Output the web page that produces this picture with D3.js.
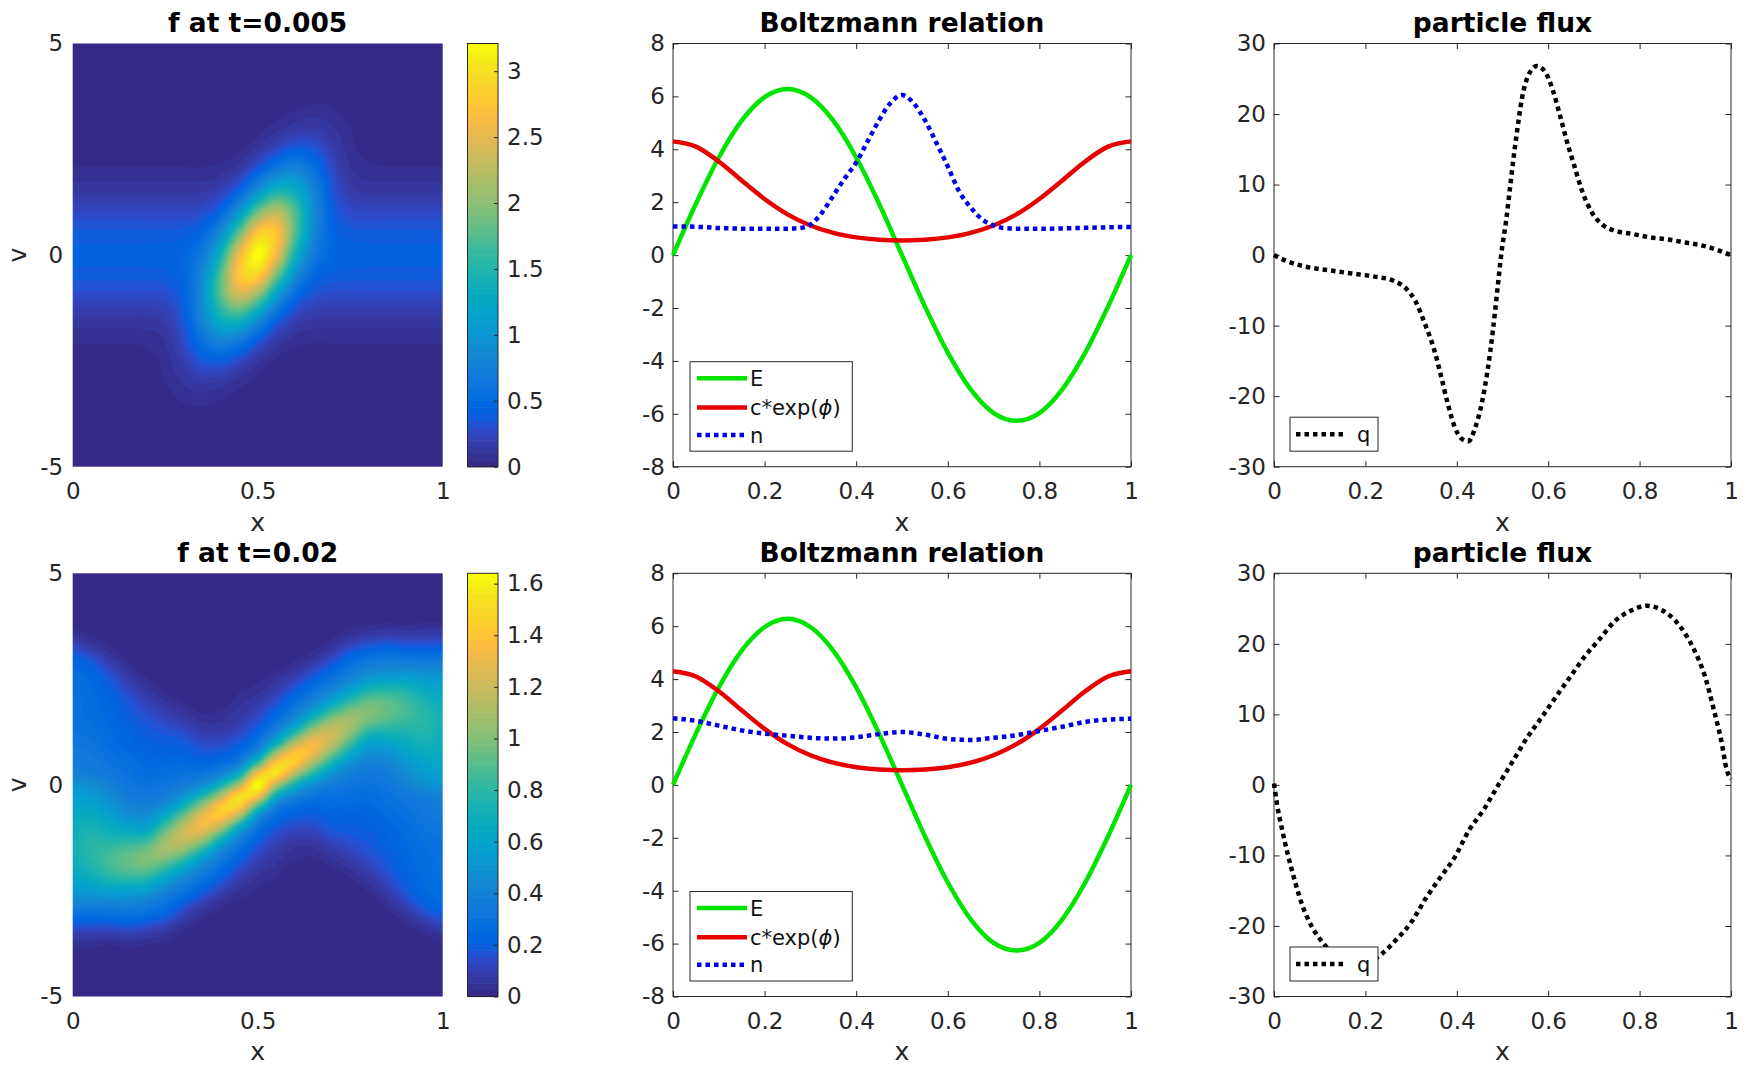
<!DOCTYPE html>
<html>
<head>
<meta charset="utf-8">
<script src="https://cdn.jsdelivr.net/npm/d3@7"></script>
<style>
  body { margin: 0; background: #fff; }
  svg { display: block; }
  svg text { font-family: "DejaVu Sans", sans-serif; }
</style>
</head>
<body>
<svg id="fig" width="1748" height="1066"></svg>
<script>
// ---- distribution function f(x,v) ----
const fieldX = [0,0.05,0.1,0.15,0.2,0.25,0.3,0.35,0.4,0.45,0.5,0.55,0.6,0.65,0.7,0.75,0.8,0.85,0.9,0.95,1];
const vEarly = [5,4.5,4,3.5,3,2.5,2,1.5,1,0.5,0,-0.5,-1,-1.5,-2,-2.5,-3,-3.5,-4,-4.5,-5];
// rows = v (top to bottom), columns = x
const fEarly = [
  [0,0,0,0,0,0,0,0,0,0,0,0,0,0,0,0,0,0,0,0,0],
  [0,0,0,0,0,0,0,0,0,0,0,0,0,0,0,0,0,0,0,0,0],
  [0,0,0,0,0,0,0,0,0,0,0,0,.01,.02,.02,.01,0,0,0,0,0],
  [0,0,0,0,0,0,0,0,0,0,0,.02,.04,.06,.05,.02,.01,0,0,0,0],
  [.01,.01,.01,.01,.01,.01,.01,.01,.01,.01,.03,.08,.14,.16,.11,.05,.02,.01,.01,.01,.01],
  [.02,.02,.02,.02,.02,.02,.02,.02,.02,.04,.12,.27,.39,.35,.19,.07,.03,.02,.02,.02,.02],
  [.06,.06,.06,.06,.06,.06,.06,.06,.08,.16,.40,.72,.83,.60,.28,.11,.07,.06,.06,.06,.06],
  [.14,.14,.14,.14,.14,.14,.14,.15,.22,.47,.99,1.46,1.36,.82,.36,.18,.14,.14,.14,.14,.14],
  [.26,.26,.26,.26,.26,.26,.26,.30,.49,1.06,1.91,2.28,1.75,.92,.43,.28,.26,.26,.26,.26,.26],
  [.37,.37,.37,.37,.37,.37,.39,.49,.93,1.88,2.82,2.76,1.77,.86,.47,.38,.37,.37,.37,.37,.37],
  [.42,.42,.42,.42,.42,.43,.47,.70,1.42,2.58,3.21,2.58,1.42,.70,.47,.43,.42,.42,.42,.42,.42],
  [.37,.37,.37,.37,.37,.38,.47,.86,1.77,2.76,2.82,1.88,.93,.49,.39,.37,.37,.37,.37,.37,.37],
  [.26,.26,.26,.26,.26,.28,.43,.92,1.75,2.28,1.91,1.06,.49,.30,.26,.26,.26,.26,.26,.26,.26],
  [.14,.14,.14,.14,.14,.18,.36,.82,1.36,1.46,.99,.47,.22,.15,.14,.14,.14,.14,.14,.14,.14],
  [.06,.06,.06,.06,.07,.11,.28,.60,.83,.72,.40,.16,.08,.06,.06,.06,.06,.06,.06,.06,.06],
  [.02,.02,.02,.02,.03,.07,.19,.35,.39,.27,.12,.04,.02,.02,.02,.02,.02,.02,.02,.02,.02],
  [.01,.01,.01,.01,.02,.05,.11,.16,.14,.08,.03,.01,.01,.01,.01,.01,.01,.01,.01,.01,.01],
  [0,0,0,0,.01,.02,.05,.06,.04,.02,0,0,0,0,0,0,0,0,0,0,0],
  [0,0,0,0,0,.01,.02,.02,.01,0,0,0,0,0,0,0,0,0,0,0,0],
  [0,0,0,0,0,0,0,0,0,0,0,0,0,0,0,0,0,0,0,0,0],
  [0,0,0,0,0,0,0,0,0,0,0,0,0,0,0,0,0,0,0,0,0]
];

const vLate = [5,4.75,4.5,4.25,4,3.75,3.5,3.25,3,2.75,2.5,2.25,2,1.75,1.5,1.25,1,0.75,0.5,0.25,0,
  -0.25,-0.5,-0.75,-1,-1.25,-1.5,-1.75,-2,-2.25,-2.5,-2.75,-3,-3.25,-3.5,-3.75,-4,-4.25,-4.5,-4.75,-5];
// columns = x, each column runs v from top to bottom
const fLateCols = [
  [0,0,0,0,0,.02,.06,.14,.22,.26,.28,.28,.29,.29,.30,.31,.33,.35,.38,.41,.50,.56,.62,.66,.69,.71,.72,.71,.68,.62,.53,.43,.32,.20,.11,.04,.01,0,0,0,0],
  [0,0,0,0,0,.01,.03,.08,.16,.22,.25,.26,.27,.27,.28,.29,.31,.33,.35,.38,.47,.53,.60,.67,.73,.77,.79,.78,.74,.66,.55,.43,.30,.20,.10,.04,.01,0,0,0,0],
  [0,0,0,0,0,0,.01,.03,.07,.13,.18,.21,.23,.24,.25,.26,.27,.29,.31,.34,.40,.45,.51,.59,.67,.75,.83,.87,.84,.74,.60,.44,.32,.20,.10,.03,.01,0,0,0,0],
  [0,0,0,0,0,0,0,0,.02,.05,.09,.13,.17,.19,.21,.23,.24,.26,.28,.30,.33,.37,.42,.49,.62,.75,.88,.94,.90,.77,.58,.44,.33,.22,.11,.04,.01,0,0,0,0],
  [0,0,0,0,0,0,0,0,0,0,.03,.06,.10,.14,.17,.19,.21,.23,.25,.27,.30,.34,.40,.48,.60,.78,.95,1.00,.92,.74,.55,.40,.30,.19,.09,.03,.01,0,0,0,0],
  [0,0,0,0,0,0,0,0,0,0,0,.02,.05,.09,.13,.17,.20,.22,.25,.28,.32,.38,.48,.67,.87,1.04,1.09,.98,.78,.58,.42,.32,.24,.14,.06,.02,0,0,0,0,0],
  [0,0,0,0,0,0,0,0,0,0,0,0,.02,.05,.09,.14,.19,.22,.26,.30,.37,.50,.72,.98,1.17,1.20,1.06,.82,.58,.42,.31,.22,.13,.06,.02,0,0,0,0,0,0],
  [0,0,0,0,0,0,0,0,0,0,0,0,0,.02,.05,.09,.14,.19,.24,.32,.47,.75,1.06,1.30,1.32,1.12,.82,.56,.40,.30,.21,.12,.05,.02,0,0,0,0,0,0,0],
  [0,0,0,0,0,0,0,0,0,0,0,0,0,.03,.05,.09,.14,.20,.28,.43,.72,1.10,1.42,1.40,1.12,.76,.50,.36,.27,.19,.11,.05,.02,0,0,0,0,0,0,0,0],
  [0,0,0,0,0,0,0,0,0,0,0,.02,.04,.06,.09,.13,.19,.27,.40,.69,1.12,1.52,1.45,1.08,.66,.42,.30,.22,.15,.09,.05,.02,0,0,0,0,0,0,0,0,0],
  [0,0,0,0,0,0,0,0,0,.01,.02,.04,.07,.11,.16,.23,.32,.50,.88,1.38,1.64,1.38,.88,.50,.32,.23,.16,.11,.07,.04,.02,.01,0,0,0,0,0,0,0,0,0],
  [0,0,0,0,0,0,0,0,0,.02,.05,.09,.15,.22,.30,.42,.66,1.08,1.45,1.52,1.12,.69,.40,.27,.19,.13,.09,.06,.04,.02,0,0,0,0,0,0,0,0,0,0,0],
  [0,0,0,0,0,0,0,0,.02,.05,.11,.19,.27,.36,.50,.76,1.12,1.40,1.42,1.10,.72,.43,.28,.20,.14,.09,.05,.03,0,0,0,0,0,0,0,0,0,0,0,0,0],
  [0,0,0,0,0,0,0,.02,.05,.12,.21,.30,.40,.56,.82,1.12,1.32,1.30,1.06,.75,.47,.32,.24,.19,.14,.09,.05,.02,0,0,0,0,0,0,0,0,0,0,0,0,0],
  [0,0,0,0,0,0,.02,.06,.13,.22,.31,.42,.58,.82,1.06,1.20,1.17,.98,.72,.50,.37,.30,.26,.22,.19,.14,.09,.05,.02,0,0,0,0,0,0,0,0,0,0,0,0],
  [0,0,0,0,0,.02,.06,.14,.24,.32,.42,.58,.78,.98,1.09,1.04,.87,.67,.48,.38,.32,.28,.25,.22,.20,.17,.13,.09,.05,.02,0,0,0,0,0,0,0,0,0,0,0],
  [0,0,0,0,.01,.03,.09,.19,.30,.40,.55,.74,.92,1.00,.95,.78,.60,.48,.40,.34,.30,.27,.25,.23,.21,.19,.17,.14,.10,.06,.03,0,0,0,0,0,0,0,0,0,0],
  [0,0,0,0,.01,.04,.11,.22,.33,.44,.58,.77,.90,.94,.88,.75,.62,.49,.42,.37,.33,.30,.28,.26,.24,.23,.21,.19,.17,.13,.09,.05,.02,0,0,0,0,0,0,0,0],
  [0,0,0,0,.01,.03,.10,.20,.32,.44,.60,.74,.84,.87,.83,.75,.67,.59,.51,.45,.40,.34,.31,.29,.27,.26,.25,.24,.23,.21,.18,.13,.07,.03,.01,0,0,0,0,0,0],
  [0,0,0,0,.01,.04,.10,.20,.30,.43,.55,.66,.74,.78,.79,.77,.73,.67,.60,.53,.47,.38,.35,.33,.31,.29,.28,.27,.27,.26,.25,.22,.16,.08,.03,.01,0,0,0,0,0],
  [0,0,0,0,.01,.04,.11,.20,.32,.43,.53,.62,.68,.71,.72,.71,.69,.66,.62,.56,.50,.41,.38,.35,.33,.31,.30,.29,.29,.28,.28,.26,.22,.14,.06,.02,0,0,0,0,0]
];
const fLate = d3.transpose(fLateCols);

// ---- Boltzmann relation ----
const bx = [0,0.05,0.1,0.15,0.2,0.25,0.3,0.35,0.4,0.45,0.5,0.55,0.6,0.65,0.7,0.75,0.8,0.85,0.9,0.95,1];
const eField = [0,1.94,3.69,5.08,5.97,6.28,5.97,5.08,3.69,1.94,0,-1.94,-3.69,-5.08,-5.97,-6.26,-5.97,-5.08,-3.69,-1.94,0];
const cExpPhi = [4.30,4.10,3.54,2.82,2.12,1.54,1.12,0.84,0.67,0.58,0.55,0.58,0.67,0.84,1.12,1.54,2.12,2.82,3.54,4.10,4.30];
const nEarlyX = [0,0.025,0.05,0.075,0.1,0.125,0.15,0.175,0.2,0.225,0.25,0.275,0.3,0.325,0.35,0.375,0.4,0.425,0.45,0.475,0.5,
  0.525,0.55,0.575,0.6,0.625,0.65,0.675,0.7,0.725,0.75,0.775,0.8,0.825,0.85,0.875,0.9,0.925,0.95,0.975,1];
const nEarly = [1.08,1.08,1.07,1.05,1.02,1.01,1.0,1.0,1.0,1.0,1.0,1.02,1.15,1.6,2.25,2.9,3.5,4.3,5.1,5.75,6.05,
  5.75,5.1,4.25,3.35,2.4,1.8,1.35,1.12,1.02,1.0,1.0,1.0,1.0,1.01,1.02,1.03,1.04,1.05,1.06,1.06];
const nLate = [2.52,2.42,2.24,2.06,1.94,1.86,1.78,1.75,1.80,1.92,2.0,1.90,1.74,1.70,1.78,1.88,2.04,2.20,2.38,2.47,2.50];

// ---- particle flux ----
const qEarlyX = [0,0.03,0.07,0.12,0.17,0.22,0.26,0.29,0.31,0.33,0.35,0.365,0.38,0.395,0.41,0.425,0.44,0.455,0.467,0.479,
  0.489,0.498,0.508,0.516,0.524,0.532,0.542,0.556,0.575,0.594,0.61,0.625,0.641,0.657,0.673,0.697,0.721,0.744,0.784,0.824,
  0.863,0.903,0.943,1];
const qEarly = [0,-0.9,-1.65,-2.15,-2.6,-3.05,-3.6,-4.8,-6.6,-9.7,-13.3,-17,-21,-24.3,-26,-26.4,-24.5,-20.9,-16.5,-10.7,
  -4.8,0.5,4.9,9.3,13.7,17.6,22.0,25.4,26.8,25.9,23.4,20.0,16.1,12.7,9.3,5.9,4.2,3.5,3.0,2.5,
  2.2,1.75,1.27,0];
const qLateX = [0,0.006,0.018,0.03,0.046,0.062,0.082,0.11,0.14,0.17,0.2,0.233,0.268,0.3,0.332,0.363,0.395,0.427,0.459,0.49,
  0.522,0.554,0.586,0.617,0.649,0.681,0.713,0.744,0.784,0.816,0.848,0.887,0.919,0.943,0.963,0.979,0.99,1];
const qLate = [0.2,-2.5,-6.4,-9.8,-13.7,-17.1,-20,-22.6,-24.6,-25.5,-25.3,-24.1,-21.9,-19.5,-16.1,-13.2,-10.3,-6.4,-3.5,-0.1,
  3.3,6.7,9.6,12.5,15.4,18.3,20.7,23.1,24.8,25.4,24.8,22.6,19.2,15.4,10.5,6.2,2.3,0.8];

// ---- ticks ----
const heatXTicks = [0, 0.5, 1];
const heatVTicks = [-5, 0, 5];
const cbTicksEarly = [0, 0.5, 1, 1.5, 2, 2.5, 3];
const cbTicksLate = [0, 0.2, 0.4, 0.6, 0.8, 1, 1.2, 1.4, 1.6];
const lineXTicks = [0, 0.2, 0.4, 0.6, 0.8, 1];
const boltzTicks = [-8, -6, -4, -2, 0, 2, 4, 6, 8];
const fluxTicks = [-30, -20, -10, 0, 10, 20, 30];

// parula(64)
const parula = [
  "#352a87","#363093","#3637a0","#353dad","#3243ba","#2c4ac7","#2053d4","#0f5cdd",
  "#0363e1","#0268e1","#046de0","#0871de","#0d75dc","#1079da","#127dd8","#1481d6",
  "#1485d4","#1389d3","#108ed2","#0c93d2","#0998d1","#079ccf","#06a0cd","#06a4ca",
  "#06a7c6","#07a9c2","#0aacbe","#0faeb9","#15b1b4","#1db3af","#25b5a9","#2eb7a4",
  "#38b99e","#42bb98","#4dbc92","#59bd8c","#65be86","#71bf80","#7cbf7b","#87bf77",
  "#92bf73","#9cbf6f","#a5be6b","#aebe67","#b7bd64","#c0bc60","#c8bc5d","#d1bb59",
  "#d9ba56","#e1b952","#e9b94e","#f1b94a","#f8bb44","#fdbe3d","#ffc337","#fec832",
  "#fcce2e","#fad32a","#f7d826","#f5de21","#f5e41d","#f5eb18","#f6f313","#f9fb0e"];

// layout
const rowTop = [43.5, 573.3];
const plotH = 423.2;
const heatL = 72.7, heatW = 370;
const cbL = 467.5, cbW = 30.5;
const midL = 673, midW = 458;
const rightL = 1274, rightW = 457;
const axisGray = "#262626";
const tickFont = 23, labelFont = 25, titleFont = 26.5, legendFont = 21;

const svg = d3.select("#fig");

function styleAxis(g) {
  g.attr("font-family", "DejaVu Sans, sans-serif").attr("font-size", tickFont).attr("color", axisGray);
  g.select(".domain").remove();
  g.selectAll("line").attr("stroke-width", 1);
}

function cubic(p0, p1, p2, p3, t) {
  return p1 + 0.5 * t * (p2 - p0 + t * (2 * p0 - 5 * p1 + 4 * p2 - p3 + t * (3 * (p1 - p2) + p3 - p0)));
}

function sampleGrid(grid, gx, gy) {
  const ny = grid.length, nx = grid[0].length;
  const ix = Math.min(Math.floor(gx), nx - 2), iy = Math.min(Math.floor(gy), ny - 2);
  const tx = gx - ix, ty = gy - iy;
  const at = (j, i) => grid[Math.max(0, Math.min(ny - 1, i))][Math.max(0, Math.min(nx - 1, j))];
  const r = [];
  for (let k = -1; k <= 2; k++) {
    r.push(cubic(at(ix - 1, iy + k), at(ix, iy + k), at(ix + 1, iy + k), at(ix + 2, iy + k), tx));
  }
  return cubic(r[0], r[1], r[2], r[3], ty);
}

function heatPanel(top, grid, xs, vs, cbTicks, title) {
  const g = svg.append("g").attr("transform", `translate(${heatL},${top})`);
  const x = d3.scaleLinear().domain([0, 1]).range([0, heatW]);
  const y = d3.scaleLinear().domain([-5, 5]).range([plotH, 0]);
  const maxVal = d3.max(grid, r => d3.max(r));
  const color = d3.scaleQuantize().domain([0, maxVal]).range(parula);
  const rgbOf = new Map(parula.map(c => [c, d3.rgb(c)]));

  const cw = Math.round(heatW), ch = Math.round(plotH);
  const canvas = document.createElement("canvas");
  canvas.width = cw; canvas.height = ch;
  const ctx = canvas.getContext("2d");
  const img = ctx.createImageData(cw, ch);
  const dx = xs[1] - xs[0], dv = vs[0] - vs[1];
  for (let py = 0; py < ch; py++) {
    const gy = (vs[0] - y.invert((py + 0.5) * plotH / ch)) / dv;
    for (let px = 0; px < cw; px++) {
      const gx = (x.invert((px + 0.5) * heatW / cw) - xs[0]) / dx;
      const c = rgbOf.get(color(sampleGrid(grid, gx, gy)));
      const o = (py * cw + px) * 4;
      img.data[o] = c.r; img.data[o + 1] = c.g; img.data[o + 2] = c.b; img.data[o + 3] = 255;
    }
  }
  ctx.putImageData(img, 0, 0);
  g.append("image")
    .attr("href", canvas.toDataURL())
    .attr("width", heatW).attr("height", plotH)
    .attr("preserveAspectRatio", "none");

  g.append("g").attr("transform", `translate(0,${plotH})`)
    .call(d3.axisBottom(x).tickValues(heatXTicks).tickSize(0).tickPadding(16).tickFormat(String))
    .call(styleAxis);
  g.append("g")
    .call(d3.axisLeft(y).tickValues(heatVTicks).tickSize(0).tickPadding(9.5).tickFormat(String))
    .call(styleAxis);

  g.append("text").attr("x", heatW / 2).attr("y", -11.6).attr("text-anchor", "middle")
    .attr("font-size", titleFont).attr("font-weight", "bold").attr("fill", "#000").text(title);
  g.append("text").attr("x", heatW / 2).attr("y", plotH + 64).attr("text-anchor", "middle")
    .attr("font-size", labelFont).attr("fill", axisGray).text("x");
  g.append("text").attr("transform", `translate(${26.5 - heatL},${plotH / 2}) rotate(-90)`)
    .attr("text-anchor", "middle").attr("font-size", labelFont).attr("fill", axisGray).text("v");

  // colorbar
  const cb = svg.append("g").attr("transform", `translate(${cbL},${top})`);
  const cy = d3.scaleLinear().domain([0, maxVal]).range([plotH, 0]);
  cb.selectAll("rect.c").data(parula).join("rect").attr("class", "c")
    .attr("x", 0).attr("width", cbW)
    .attr("y", d => cy(color.invertExtent(d)[1]))
    .attr("height", d => cy(color.invertExtent(d)[0]) - cy(color.invertExtent(d)[1]) + 0.6)
    .attr("fill", d => d);
  cb.append("rect").attr("width", cbW).attr("height", plotH)
    .attr("fill", "none").attr("stroke", axisGray).attr("stroke-width", 1);
  cb.append("g").attr("transform", `translate(${cbW},0)`)
    .call(d3.axisRight(cy).tickValues(cbTicks).tickSize(-4).tickPadding(9).tickFormat(String))
    .call(styleAxis);
}

function linePanel(left, top, width, yDomain, yTicks, title) {
  const g = svg.append("g").attr("transform", `translate(${left},${top})`);
  const x = d3.scaleLinear().domain([0, 1]).range([0, width]);
  const y = d3.scaleLinear().domain(yDomain).range([plotH, 0]);
  g.append("rect").attr("width", width).attr("height", plotH)
    .attr("fill", "#fff").attr("stroke", axisGray).attr("stroke-width", 1);
  const tk = -5.5;
  g.append("g").attr("transform", `translate(0,${plotH})`)
    .call(d3.axisBottom(x).tickValues(lineXTicks).tickSize(tk).tickPadding(16).tickFormat(String))
    .call(styleAxis);
  g.append("g")
    .call(d3.axisTop(x).tickValues(lineXTicks).tickSize(tk).tickFormat(() => ""))
    .call(styleAxis);
  g.append("g")
    .call(d3.axisLeft(y).tickValues(yTicks).tickSize(tk).tickPadding(8).tickFormat(String))
    .call(styleAxis);
  g.append("g").attr("transform", `translate(${width},0)`)
    .call(d3.axisRight(y).tickValues(yTicks).tickSize(tk).tickFormat(() => ""))
    .call(styleAxis);
  g.append("text").attr("x", width / 2).attr("y", -11.6).attr("text-anchor", "middle")
    .attr("font-size", titleFont).attr("font-weight", "bold").attr("fill", "#000").text(title);
  g.append("text").attr("x", width / 2).attr("y", plotH + 64).attr("text-anchor", "middle")
    .attr("font-size", labelFont).attr("fill", axisGray).text("x");
  return { g, x, y };
}

const seriesStyle = {
  E: { color: "#00e400", dash: null },
  c: { color: "#e60000", dash: null },
  n: { color: "#0000e6", dash: "4.5,4" },
  q: { color: "#000000", dash: "4.5,4" }
};

function drawSeries(p, xs, ys, st) {
  const line = d3.line().x(d => p.x(d[0])).y(d => p.y(d[1])).curve(d3.curveMonotoneX);
  p.g.append("path").datum(d3.zip(xs, ys))
    .attr("d", line).attr("fill", "none")
    .attr("stroke", st.color).attr("stroke-width", 4.5)
    .attr("stroke-dasharray", st.dash);
}

function legendBox(p, left, width, rows, items, sampleL, sampleR, textX) {
  const h = rows.length === 1 ? 34 : 89.5;
  const top = plotH - 15.5 - h;
  const lg = p.g.append("g").attr("transform", `translate(${left},${top})`);
  lg.append("rect").attr("width", width).attr("height", h)
    .attr("fill", "#fff").attr("stroke", axisGray).attr("stroke-width", 1);
  items.forEach((it, i) => {
    const yy = rows[i];
    lg.append("line").attr("x1", sampleL).attr("x2", sampleR).attr("y1", yy).attr("y2", yy)
      .attr("stroke", it.st.color).attr("stroke-width", 4.5).attr("stroke-dasharray", it.st.dash);
    const t = lg.append("text").attr("x", textX).attr("y", yy).attr("dy", "0.36em")
      .attr("font-size", legendFont).attr("fill", "#111");
    it.label.forEach(part => {
      t.append("tspan").attr("font-style", part.italic ? "italic" : null).text(part.t);
    });
  });
}

const boltzItems = [
  { st: seriesStyle.E, label: [{ t: "E" }] },
  { st: seriesStyle.c, label: [{ t: "c*exp(" }, { t: "\u03d5", italic: true }, { t: ")" }] },
  { st: seriesStyle.n, label: [{ t: "n" }] }
];
const fluxItems = [{ st: seriesStyle.q, label: [{ t: "q" }] }];

// ---- panels ----
heatPanel(rowTop[0], fEarly, fieldX, vEarly, cbTicksEarly, "f at t=0.005");
heatPanel(rowTop[1], fLate, fieldX, vLate, cbTicksLate, "f at t=0.02");

[[nEarlyX, nEarly], [bx, nLate]].forEach(([nx, nv], r) => {
  const p = linePanel(midL, rowTop[r], midW, [-8, 8], boltzTicks, "Boltzmann relation");
  drawSeries(p, bx, eField, seriesStyle.E);
  drawSeries(p, bx, cExpPhi, seriesStyle.c);
  drawSeries(p, nx, nv, seriesStyle.n);
  legendBox(p, 17, 162.3, [16.6, 45.8, 73.3], boltzItems, 7, 57, 60);
});

[[qEarlyX, qEarly], [qLateX, qLate]].forEach(([qx, qv], r) => {
  const p = linePanel(rightL, rowTop[r], rightW, [-30, 30], fluxTicks, "particle flux");
  drawSeries(p, qx, qv, seriesStyle.q);
  legendBox(p, 16, 88, [17], fluxItems, 6, 57, 67);
});
</script>
</body>
</html>
